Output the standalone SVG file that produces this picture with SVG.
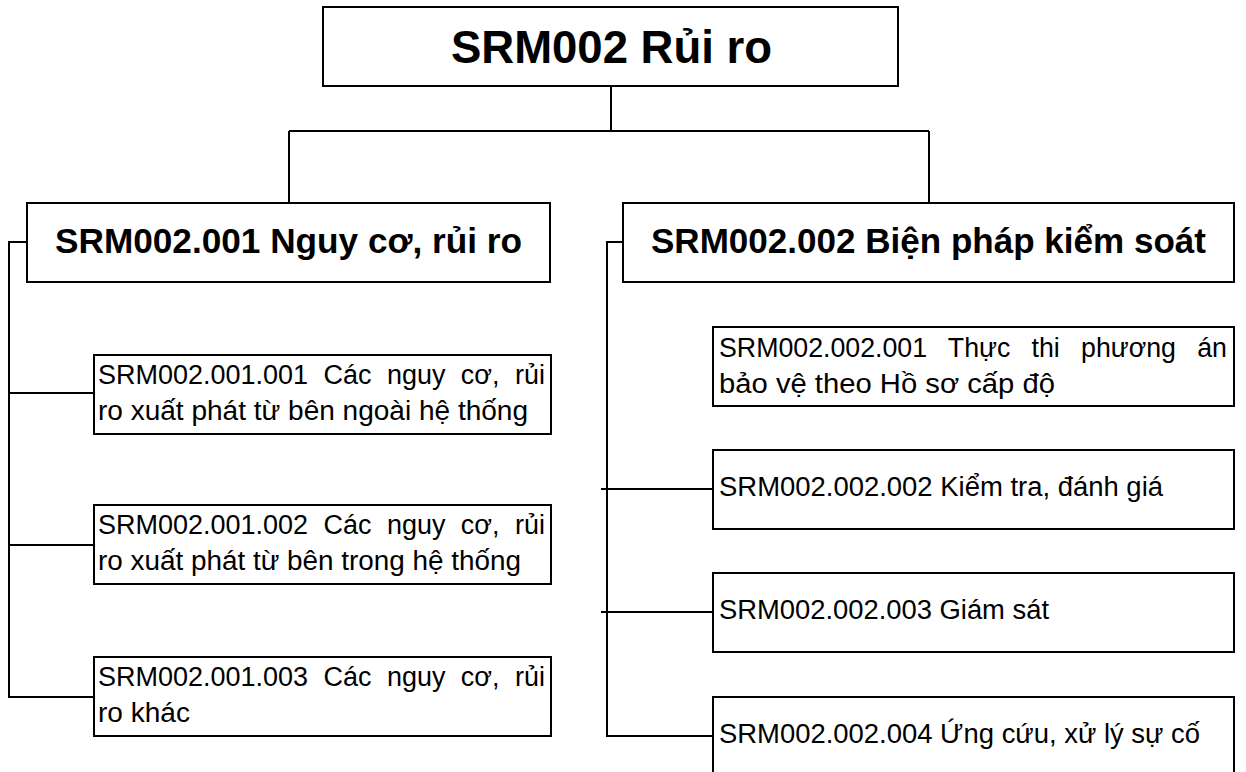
<svg xmlns="http://www.w3.org/2000/svg" width="1246" height="772" viewBox="0 0 1246 772">
<style>
.box{fill:#fff;stroke:#000;stroke-width:2}
.con{fill:none;stroke:#000;stroke-width:2}
.t0{font-family:"Liberation Sans",Arial,sans-serif;font-weight:bold;font-size:46px;fill:#000}
.t1{font-family:"Liberation Sans",Arial,sans-serif;font-weight:bold;font-size:35px;fill:#000}
.t2{font-family:"Liberation Sans",Arial,sans-serif;font-size:27px;fill:#000}
</style>
<rect width="1246" height="772" fill="#fff"/>
<g id="connectors">
<path class="con" d="M611 86V131M289 131H929M289 131V203M929 131V203"/>
<path class="con" d="M27 242H9V697H94M9 393H94M9 545H94"/>
<path class="con" d="M623 242H607V736H713M601 489H713M601 612H713"/>
</g>
<g id="root">
<rect class="box" x="323" y="7" width="575" height="79"/>
<text class="t0" x="451" y="63" textLength="321" lengthAdjust="spacingAndGlyphs">SRM002 Rủi ro</text>
</g>
<g id="n001">
<rect class="box" x="27" y="203" width="523" height="79"/>
<text class="t1" x="55" y="253" textLength="467" lengthAdjust="spacingAndGlyphs">SRM002.001 Nguy cơ, rủi ro</text>
</g>
<g id="n002">
<rect class="box" x="623" y="203" width="611" height="79"/>
<text class="t1" x="651" y="253" textLength="555" lengthAdjust="spacingAndGlyphs">SRM002.002 Biện pháp kiểm soát</text>
</g>
<g id="n001001">
<rect class="box" x="94" y="355" width="457" height="79"/>
<text class="t2" x="98" y="384" word-spacing="8" textLength="447" lengthAdjust="spacingAndGlyphs">SRM002.001.001 Các nguy cơ, rủi</text>
<text class="t2" x="98" y="420" textLength="430" lengthAdjust="spacingAndGlyphs">ro xuất phát từ bên ngoài hệ thống</text>
</g>
<g id="n001002">
<rect class="box" x="94" y="505" width="457" height="79"/>
<text class="t2" x="98" y="534" word-spacing="8" textLength="447" lengthAdjust="spacingAndGlyphs">SRM002.001.002 Các nguy cơ, rủi</text>
<text class="t2" x="98" y="570" textLength="423" lengthAdjust="spacingAndGlyphs">ro xuất phát từ bên trong hệ thống</text>
</g>
<g id="n001003">
<rect class="box" x="94" y="657" width="457" height="79"/>
<text class="t2" x="98" y="686" word-spacing="8" textLength="447" lengthAdjust="spacingAndGlyphs">SRM002.001.003 Các nguy cơ, rủi</text>
<text class="t2" x="98" y="722" textLength="92" lengthAdjust="spacingAndGlyphs">ro khác</text>
</g>
<g id="n002001">
<rect class="box" x="713" y="327" width="521" height="79"/>
<text class="t2" x="719" y="357" word-spacing="14" textLength="508" lengthAdjust="spacingAndGlyphs">SRM002.002.001 Thực thi phương án</text>
<text class="t2" x="719" y="393" textLength="336" lengthAdjust="spacingAndGlyphs">bảo vệ theo Hồ sơ cấp độ</text>
</g>
<g id="n002002">
<rect class="box" x="713" y="450" width="521" height="79"/>
<text class="t2" x="719" y="496" textLength="444" lengthAdjust="spacingAndGlyphs">SRM002.002.002 Kiểm tra, đánh giá</text>
</g>
<g id="n002003">
<rect class="box" x="713" y="573" width="521" height="79"/>
<text class="t2" x="719" y="619" textLength="330" lengthAdjust="spacingAndGlyphs">SRM002.002.003 Giám sát</text>
</g>
<g id="n002004">
<rect class="box" x="713" y="697" width="521" height="79"/>
<text class="t2" x="719" y="743" textLength="481" lengthAdjust="spacingAndGlyphs">SRM002.002.004 Ứng cứu, xử lý sự cố</text>
</g>
</svg>
